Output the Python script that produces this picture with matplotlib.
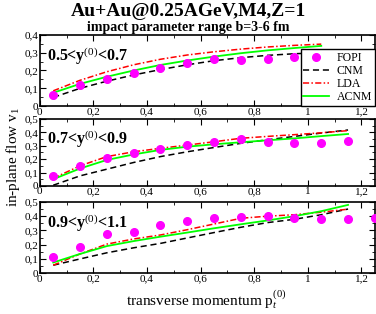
import numpy as np
import matplotlib
matplotlib.use("Agg")
import matplotlib.pyplot as plt
from matplotlib.ticker import MultipleLocator, FuncFormatter

plt.rcParams['font.family'] = ['Liberation Serif', 'DejaVu Serif']
plt.rcParams['mathtext.fontset'] = 'custom'
plt.rcParams['mathtext.rm'] = 'Liberation Serif'
plt.rcParams['mathtext.it'] = 'Liberation Serif:italic'
plt.rcParams['mathtext.bf'] = 'Liberation Serif:bold'

# FOPI data
pt_fopi = [0.05, 0.15, 0.25, 0.35, 0.45, 0.55, 0.65, 0.75, 0.85, 0.95, 1.05, 1.15, 1.25]
fopi_1 = [0.062, 0.118, 0.152, 0.184, 0.216, 0.240, 0.265, 0.260, 0.263, 0.274]
fopi_2 = [0.075, 0.149, 0.211, 0.244, 0.278, 0.308, 0.331, 0.348, 0.326, 0.323, 0.323, 0.336]
fopi_3 = [0.110, 0.181, 0.272, 0.291, 0.340, 0.366, 0.385, 0.396, 0.401, 0.385, 0.378, 0.378, 0.385]
err_1 = [0.015, 0.015, 0.008, 0.008, 0.008, 0.008, 0.008, 0.008, 0.008, 0.008]
err_2 = [0.012, 0.015, 0.01, 0.008, 0.008, 0.008, 0.008, 0.008, 0.008, 0.008, 0.008, 0.008]

# model curves
pt_mod1 = [0.05, 0.15, 0.25, 0.35, 0.45, 0.55, 0.65, 0.75, 0.85, 0.95, 1.05]
pt_mod = [0.05, 0.15, 0.25, 0.35, 0.45, 0.55, 0.65, 0.75, 0.85, 0.95, 1.05, 1.15]
cnm_1 = [0.049, 0.100, 0.140, 0.175, 0.205, 0.232, 0.255, 0.272, 0.285, 0.294, 0.300]
acnm_1 = [0.075, 0.125, 0.165, 0.200, 0.231, 0.256, 0.278, 0.297, 0.313, 0.326, 0.338]
lda_1 = [0.086, 0.145, 0.193, 0.232, 0.263, 0.287, 0.305, 0.320, 0.332, 0.341, 0.348]

cnm_2 = [0.005, 0.075, 0.125, 0.175, 0.219, 0.255, 0.287, 0.318, 0.345, 0.370, 0.395, 0.418]
acnm_2 = [0.050, 0.130, 0.194, 0.235, 0.269, 0.293, 0.311, 0.326, 0.341, 0.355, 0.372, 0.388]
lda_2 = [0.057, 0.150, 0.219, 0.255, 0.281, 0.305, 0.330, 0.356, 0.370, 0.383, 0.397, 0.413]

cnm_3 = [0.056, 0.100, 0.143, 0.178, 0.209, 0.247, 0.285, 0.322, 0.355, 0.378, 0.410, 0.450]
acnm_3 = [0.075, 0.135, 0.190, 0.225, 0.256, 0.285, 0.315, 0.343, 0.370, 0.400, 0.435, 0.479]
lda_3 = [0.056, 0.135, 0.204, 0.240, 0.268, 0.305, 0.345, 0.385, 0.400, 0.410, 0.428, 0.449]

labels = ['0.5<y$^{(0)}$<0.7', '0.7<y$^{(0)}$<0.9', '0.9<y$^{(0)}$<1.1']
ymax = [0.4, 0.5, 0.5]

fig = plt.figure(figsize=(3.76, 3.14), dpi=100)
boxes = [[0.106, 0.662, 0.891, 0.227],
         [0.106, 0.408, 0.891, 0.213],
         [0.106, 0.130, 0.891, 0.227]]

fmt = FuncFormatter(lambda v, p: f'{v:g}'.replace('.', ','))

panels = [
    (fopi_1, err_1, pt_mod1, cnm_1, lda_1, acnm_1),
    (fopi_2, err_2, pt_mod, cnm_2, lda_2, acnm_2),
    (fopi_3, None, pt_mod, cnm_3, lda_3, acnm_3),
]

for i, (fopi, err, xm, cnm, lda, acnm) in enumerate(panels):
    ax = fig.add_axes(boxes[i])
    n = len(fopi)
    h0 = ax.errorbar(pt_fopi[:n], fopi, yerr=err, fmt='o', color='#ff00ff', ms=5.5,
                     elinewidth=1, capsize=1.5, clip_on=False, zorder=3)
    h1, = ax.plot(xm, cnm, color='black', ls=(0, (4, 2.5)), lw=1.1)
    h2, = ax.plot(xm, lda, color='#ff0000', ls=(0, (4, 1.5, 1, 1.5)), lw=1.1)
    h3, = ax.plot(xm, acnm, color='#00ff00', lw=1.3)
    ax.set_xlim(0, 1.25)
    ax.set_ylim(0, ymax[i])
    ax.xaxis.set_major_locator(MultipleLocator(0.2))
    ax.xaxis.set_minor_locator(MultipleLocator(0.1))
    ax.yaxis.set_major_locator(MultipleLocator(0.1))
    ax.yaxis.set_minor_locator(MultipleLocator(0.05))
    ax.xaxis.set_major_formatter(fmt)
    ax.yaxis.set_major_formatter(fmt)
    ax.tick_params(which='both', direction='in', top=True, right=True, labelsize=8, pad=1)
    ax.tick_params(which='major', length=4)
    ax.tick_params(which='minor', length=2)
    for s in ax.spines.values():
        s.set_linewidth(1.2)
    ax.text(0.02, 0.70, labels[i], transform=ax.transAxes, fontsize=11.5,
            fontweight='bold', va='center', ha='left')
    if i == 0:
        leg = ax.legend([h0[0], h1, h2, h3], ['FOPI', 'CNM', 'LDA', 'ACNM'],
                        loc='lower right', fontsize=8.5, frameon=True, fancybox=False,
                        edgecolor='black', handlelength=2.2, borderpad=0.25,
                        labelspacing=0.1, handletextpad=0.6, borderaxespad=0.0,
                        framealpha=1)
        leg.get_frame().set_linewidth(1.0)

fig.text(0.5, 0.962, 'Au+Au@0.25AGeV,M4,Z=1', ha='center', va='center',
         fontsize=14, fontweight='bold')
fig.text(0.5, 0.912, 'impact parameter range b=3-6 fm', ha='center', va='center',
         fontsize=10, fontweight='bold')
fig.text(0.035, 0.5, 'in-plane flow v$_1$', rotation=90, ha='center', va='center',
         fontsize=11)
fig.text(0.55, 0.045, 'transverse momentum p$_t^{(0)}$', ha='center', va='center',
         fontsize=11)

fig.savefig('out.png', dpi=100)
